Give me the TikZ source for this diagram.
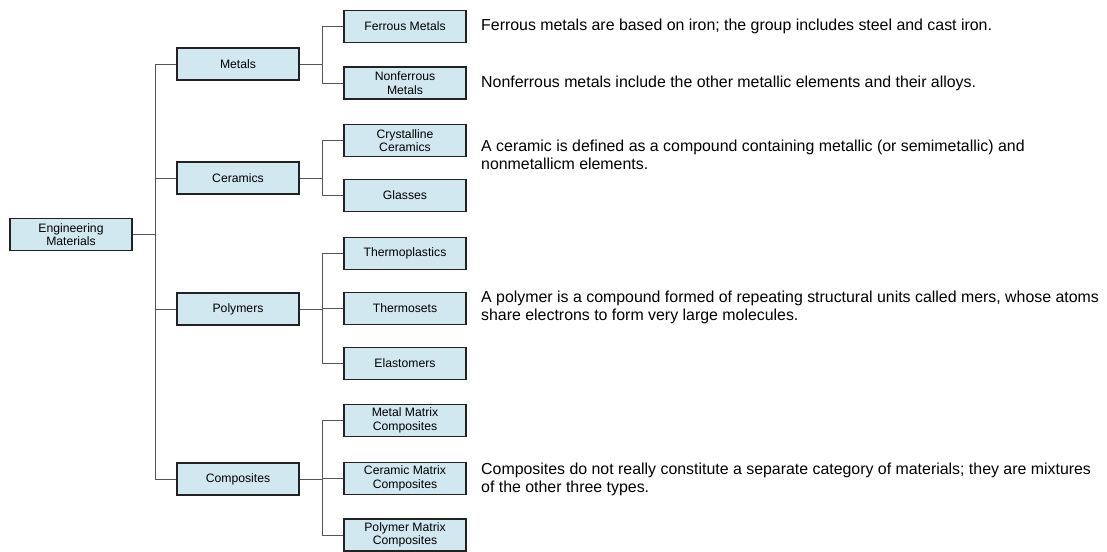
\documentclass[tikz,border=0pt]{standalone}
\usepackage{fontspec}
\setmainfont{Liberation Sans}
\definecolor{boxfill}{HTML}{D2E8F0}
\definecolor{boxline}{HTML}{222222}
\definecolor{conn}{HTML}{555555}
\begin{document}
\begin{tikzpicture}[x=1pt,y=-1pt,
  catbox/.style={draw=boxline,fill=boxfill,line width=1.8pt,minimum width=122pt,minimum height=32pt,inner sep=0pt,align=center,font=\fontsize{12.2}{13.5}\selectfont},
  desc/.style={anchor=west,align=left,inner sep=0pt,font=\fontsize{15.9}{18}\selectfont},
  link/.style={draw=conn,line width=1pt}]
\useasboundingbox (0,0) rectangle (1107,551);
% root
\node[catbox] (root) at (71,234.5) {Engineering\\Materials};
% middle
\node[catbox] (metals) at (238,64) {Metals};
\node[catbox] (ceramics) at (238,178) {Ceramics};
\node[catbox] (polymers) at (238,309) {Polymers};
\node[catbox] (composites) at (238,479) {Composites};
% leaves
\node[catbox] (ferrous) at (405,26.5) {Ferrous Metals};
\node[catbox] (nonferrous) at (405,83) {Nonferrous\\Metals};
\node[catbox] (crystalline) at (405,140.5) {Crystalline\\Ceramics};
\node[catbox] (glasses) at (405,195.5) {Glasses};
\node[catbox] (thermoplastics) at (405,253.5) {Thermoplastics};
\node[catbox] (thermosets) at (405,308.5) {Thermosets};
\node[catbox] (elastomers) at (405,363.5) {Elastomers};
\node[catbox] (mmc) at (405,420.5) {Metal Matrix\\Composites};
\node[catbox] (cmc) at (405,478.5) {Ceramic Matrix\\Composites};
\node[catbox] (pmc) at (405,535) {Polymer Matrix\\Composites};
% junction columns
\coordinate (ja) at (155,0);
\coordinate (jm) at (322,0);
% root connectors
\draw[link] (root.east) -- (root.east -| ja);
\draw[link] (ja |- metals) -- (ja |- composites);
\foreach \m in {metals,ceramics,polymers,composites}
  \draw[link] (ja |- \m) -- (\m.west);
% group connectors
\foreach \m/\a/\b in {metals/ferrous/nonferrous,ceramics/crystalline/glasses,polymers/thermoplastics/elastomers,composites/mmc/pmc}{
  \draw[link] (\m.east) -- (\m.east -| jm);
  \draw[link] (jm |- \a) -- (jm |- \b);
}
\foreach \l in {ferrous,nonferrous,crystalline,glasses,thermoplastics,thermosets,elastomers,mmc,cmc,pmc}
  \draw[link] (jm |- \l) -- (\l.west);
% descriptions
\node[desc] (dferrous) at (481,26) {Ferrous metals are based on iron; the group includes steel and cast iron.};
\node[desc] (dnonferrous) at (481,83) {Nonferrous metals include the other metallic elements and their alloys.};
\node[desc] (dceramic) at (481,155) {A ceramic is defined as a compound containing metallic (or semimetallic) and\\nonmetallicm elements.};
\node[desc] (dpolymer) at (481,307) {A polymer is a compound formed of repeating structural units called mers, whose atoms\\share electrons to form very large molecules.};
\node[desc] (dcomposite) at (481,479) {Composites do not really constitute a separate category of materials; they are mixtures\\of the other three types.};
\end{tikzpicture}
\end{document}
